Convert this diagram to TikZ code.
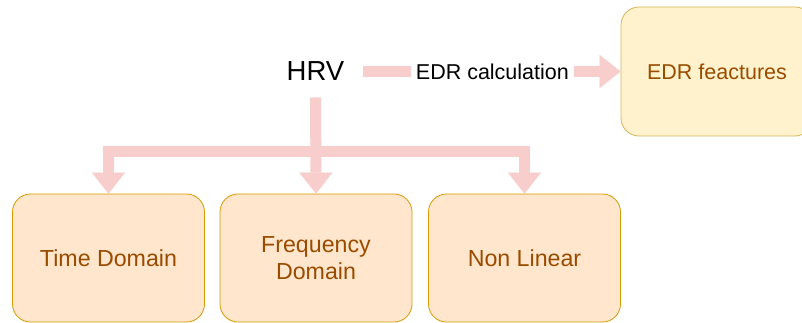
\documentclass[tikz,border=0pt]{standalone}
\usepackage{fontspec}
\setmainfont{Liberation Sans}
\usetikzlibrary{arrows.meta}

\definecolor{boxfill}{HTML}{FFE6CC}
\definecolor{boxline}{HTML}{D79B00}
\definecolor{featfill}{HTML}{FFF2CC}
\definecolor{featline}{HTML}{D6B656}
\definecolor{boxtext}{HTML}{994C00}
\definecolor{flow}{HTML}{F8CECC}

\begin{document}
\begin{tikzpicture}[x=1pt,y=-1pt,
    box/.style={draw=boxline,fill=boxfill,line width=0.8pt,rounded corners=18pt,
        minimum width=192pt,minimum height=128pt,align=center,text=boxtext,
        font=\fontsize{23.2}{27}\selectfont},
    flowarrow/.style={draw=flow,line width=11pt,line join=miter,
        -{Triangle[width=33pt,length=21pt,line width=0.1pt]}}]
    \clip (0,0) rectangle (802,323);
    \fill[white] (0,0) rectangle (802,323);

    % top row
    \node (hrv) at (315.5,71.5) {\fontsize{27.5}{30}\selectfont HRV};
    \node[box,draw=featline,fill=featfill,minimum height=129pt,
        font=\fontsize{21.5}{26}\selectfont] (edr) at (717,71.5) {EDR feactures};

    % bottom row
    \node[box] (time) at (108.5,258) {Time Domain};
    \node[box] (freq) at (316,258) {Frequency\\Domain};
    \node[box] (nonlin) at (524.5,258) {Non Linear};
    \coordinate (fork) at (316,152);

    \draw[flowarrow,shorten <=15pt] (hrv.east) -- (edr.west)
        node[pos=0.53,fill=white,inner xsep=5pt,font=\fontsize{21.5}{24}\selectfont] {EDR calculation};
    \draw[flowarrow,shorten <=13pt] (hrv.south) -- (freq.north);
    \draw[flowarrow] (fork) -| (time.north);
    \draw[flowarrow] (fork) -| (nonlin.north);
\end{tikzpicture}
\end{document}
